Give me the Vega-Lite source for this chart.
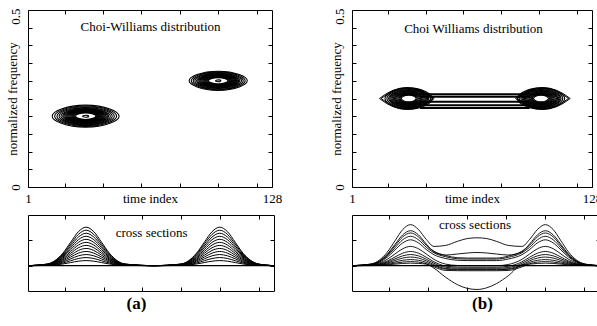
{
  "$schema": "https://vega.github.io/schema/vega-lite/v6.json",
  "background": "white",
  "padding": {"left": 5, "top": 7, "right": 0, "bottom": 0},
  "bounds": "flush",
  "align": "each",
  "columns": 2,
  "spacing": {"row": 28, "column": 78},
  "datasets": {
    "ringsA": [
      {"t": 31, "f": 0.2, "hw": 17.5}, {"t": 31, "f": 0.2, "hw": 16.2}, {"t": 31, "f": 0.2, "hw": 15.0}, {"t": 31, "f": 0.2, "hw": 13.9},
      {"t": 31, "f": 0.2, "hw": 12.9}, {"t": 31, "f": 0.2, "hw": 12.0}, {"t": 31, "f": 0.2, "hw": 11.4}, {"t": 31, "f": 0.2, "hw": 10.8},
      {"t": 31, "f": 0.2, "hw": 10.3}, {"t": 31, "f": 0.2, "hw": 9.8}, {"t": 31, "f": 0.2, "hw": 9.3}, {"t": 31, "f": 0.2, "hw": 8.8},
      {"t": 31, "f": 0.2, "hw": 8.3}, {"t": 31, "f": 0.2, "hw": 7.8}, {"t": 31, "f": 0.2, "hw": 7.3}, {"t": 31, "f": 0.2, "hw": 6.8},
      {"t": 31, "f": 0.2, "hw": 6.3}, {"t": 31, "f": 0.2, "hw": 5.8}, {"t": 31, "f": 0.2, "hw": 5.3}, {"t": 31, "f": 0.2, "hw": 1.6},
      {"t": 100, "f": 0.3, "hw": 15.2}, {"t": 100, "f": 0.3, "hw": 14.1}, {"t": 100, "f": 0.3, "hw": 13.1}, {"t": 100, "f": 0.3, "hw": 12.2},
      {"t": 100, "f": 0.3, "hw": 11.3}, {"t": 100, "f": 0.3, "hw": 10.7}, {"t": 100, "f": 0.3, "hw": 10.1}, {"t": 100, "f": 0.3, "hw": 9.6},
      {"t": 100, "f": 0.3, "hw": 9.1}, {"t": 100, "f": 0.3, "hw": 8.6}, {"t": 100, "f": 0.3, "hw": 8.1}, {"t": 100, "f": 0.3, "hw": 7.6},
      {"t": 100, "f": 0.3, "hw": 7.1}, {"t": 100, "f": 0.3, "hw": 6.6}, {"t": 100, "f": 0.3, "hw": 6.1}, {"t": 100, "f": 0.3, "hw": 5.6},
      {"t": 100, "f": 0.3, "hw": 5.1}, {"t": 100, "f": 0.3, "hw": 1.4}
    ],
    "lensB": [
      {"t": 30, "f": 0.25, "hw": 14.3}, {"t": 30, "f": 0.25, "hw": 13.4},
      {"t": 102, "f": 0.25, "hw": 14.3}, {"t": 102, "f": 0.25, "hw": 13.4}
    ],
    "ringsB": [
      {"t": 31, "f": 0.25, "hw": 12.4}, {"t": 31, "f": 0.25, "hw": 11.4}, {"t": 31, "f": 0.25, "hw": 10.5}, {"t": 31, "f": 0.25, "hw": 9.9},
      {"t": 31, "f": 0.25, "hw": 9.3}, {"t": 31, "f": 0.25, "hw": 8.7}, {"t": 31, "f": 0.25, "hw": 8.1}, {"t": 31, "f": 0.25, "hw": 7.5},
      {"t": 31, "f": 0.25, "hw": 6.9}, {"t": 31, "f": 0.25, "hw": 6.3}, {"t": 31, "f": 0.25, "hw": 5.7}, {"t": 31, "f": 0.25, "hw": 5.1},
      {"t": 31, "f": 0.25, "hw": 4.5}, {"t": 31, "f": 0.25, "hw": 3.9},
      {"t": 101, "f": 0.25, "hw": 12.4}, {"t": 101, "f": 0.25, "hw": 11.4}, {"t": 101, "f": 0.25, "hw": 10.5}, {"t": 101, "f": 0.25, "hw": 9.9},
      {"t": 101, "f": 0.25, "hw": 9.3}, {"t": 101, "f": 0.25, "hw": 8.7}, {"t": 101, "f": 0.25, "hw": 8.1}, {"t": 101, "f": 0.25, "hw": 7.5},
      {"t": 101, "f": 0.25, "hw": 6.9}, {"t": 101, "f": 0.25, "hw": 6.3}, {"t": 101, "f": 0.25, "hw": 5.7}, {"t": 101, "f": 0.25, "hw": 5.1},
      {"t": 101, "f": 0.25, "hw": 4.5}, {"t": 101, "f": 0.25, "hw": 3.9}
    ],
    "barsB": [
      {"t1": 37, "t2": 95, "f": 0.262}, {"t1": 37, "t2": 95, "f": 0.255}, {"t1": 37, "t2": 95, "f": 0.241},
      {"t1": 37, "t2": 95, "f": 0.231}, {"t1": 37, "t2": 95, "f": 0.223}
    ],
    "csA": [
      {"c":1,"x":1,"v":0},{"c":1,"x":11,"v":0.033},{"c":1,"x":19,"v":0.247},{"c":1,"x":23,"v":0.461},{"c":1,"x":27,"v":0.670},{"c":1,"x":31,"v":0.76},{"c":1,"x":35,"v":0.670},{"c":1,"x":39,"v":0.461},{"c":1,"x":43,"v":0.247},{"c":1,"x":51,"v":0.033},{"c":1,"x":66,"v":0},{"c":1,"x":80,"v":0.033},{"c":1,"x":88,"v":0.247},{"c":1,"x":92,"v":0.461},{"c":1,"x":96,"v":0.670},{"c":1,"x":100,"v":0.76},{"c":1,"x":104,"v":0.670},{"c":1,"x":108,"v":0.461},{"c":1,"x":112,"v":0.247},{"c":1,"x":120,"v":0.033},{"c":1,"x":128,"v":0},
      {"c":2,"x":1,"v":0},{"c":2,"x":11,"v":0.031},{"c":2,"x":19,"v":0.228},{"c":2,"x":23,"v":0.425},{"c":2,"x":27,"v":0.617},{"c":2,"x":31,"v":0.70},{"c":2,"x":35,"v":0.617},{"c":2,"x":39,"v":0.425},{"c":2,"x":43,"v":0.228},{"c":2,"x":51,"v":0.031},{"c":2,"x":66,"v":0},{"c":2,"x":80,"v":0.031},{"c":2,"x":88,"v":0.228},{"c":2,"x":92,"v":0.425},{"c":2,"x":96,"v":0.617},{"c":2,"x":100,"v":0.70},{"c":2,"x":104,"v":0.617},{"c":2,"x":108,"v":0.425},{"c":2,"x":112,"v":0.228},{"c":2,"x":120,"v":0.031},{"c":2,"x":128,"v":0},
      {"c":3,"x":1,"v":0},{"c":3,"x":11,"v":0.028},{"c":3,"x":19,"v":0.208},{"c":3,"x":23,"v":0.388},{"c":3,"x":27,"v":0.564},{"c":3,"x":31,"v":0.64},{"c":3,"x":35,"v":0.564},{"c":3,"x":39,"v":0.388},{"c":3,"x":43,"v":0.208},{"c":3,"x":51,"v":0.028},{"c":3,"x":66,"v":0},{"c":3,"x":80,"v":0.028},{"c":3,"x":88,"v":0.208},{"c":3,"x":92,"v":0.388},{"c":3,"x":96,"v":0.564},{"c":3,"x":100,"v":0.64},{"c":3,"x":104,"v":0.564},{"c":3,"x":108,"v":0.388},{"c":3,"x":112,"v":0.208},{"c":3,"x":120,"v":0.028},{"c":3,"x":128,"v":0},
      {"c":4,"x":1,"v":0},{"c":4,"x":11,"v":0.026},{"c":4,"x":19,"v":0.189},{"c":4,"x":23,"v":0.352},{"c":4,"x":27,"v":0.512},{"c":4,"x":31,"v":0.58},{"c":4,"x":35,"v":0.512},{"c":4,"x":39,"v":0.352},{"c":4,"x":43,"v":0.189},{"c":4,"x":51,"v":0.026},{"c":4,"x":66,"v":0},{"c":4,"x":80,"v":0.026},{"c":4,"x":88,"v":0.189},{"c":4,"x":92,"v":0.352},{"c":4,"x":96,"v":0.512},{"c":4,"x":100,"v":0.58},{"c":4,"x":104,"v":0.512},{"c":4,"x":108,"v":0.352},{"c":4,"x":112,"v":0.189},{"c":4,"x":120,"v":0.026},{"c":4,"x":128,"v":0},
      {"c":5,"x":1,"v":0},{"c":5,"x":11,"v":0.023},{"c":5,"x":19,"v":0.169},{"c":5,"x":23,"v":0.316},{"c":5,"x":27,"v":0.459},{"c":5,"x":31,"v":0.52},{"c":5,"x":35,"v":0.459},{"c":5,"x":39,"v":0.316},{"c":5,"x":43,"v":0.169},{"c":5,"x":51,"v":0.023},{"c":5,"x":66,"v":0},{"c":5,"x":80,"v":0.023},{"c":5,"x":88,"v":0.169},{"c":5,"x":92,"v":0.316},{"c":5,"x":96,"v":0.459},{"c":5,"x":100,"v":0.52},{"c":5,"x":104,"v":0.459},{"c":5,"x":108,"v":0.316},{"c":5,"x":112,"v":0.169},{"c":5,"x":120,"v":0.023},{"c":5,"x":128,"v":0},
      {"c":6,"x":1,"v":0},{"c":6,"x":11,"v":0.020},{"c":6,"x":19,"v":0.150},{"c":6,"x":23,"v":0.279},{"c":6,"x":27,"v":0.406},{"c":6,"x":31,"v":0.46},{"c":6,"x":35,"v":0.406},{"c":6,"x":39,"v":0.279},{"c":6,"x":43,"v":0.150},{"c":6,"x":51,"v":0.020},{"c":6,"x":66,"v":0},{"c":6,"x":80,"v":0.020},{"c":6,"x":88,"v":0.150},{"c":6,"x":92,"v":0.279},{"c":6,"x":96,"v":0.406},{"c":6,"x":100,"v":0.46},{"c":6,"x":104,"v":0.406},{"c":6,"x":108,"v":0.279},{"c":6,"x":112,"v":0.150},{"c":6,"x":120,"v":0.020},{"c":6,"x":128,"v":0},
      {"c":7,"x":1,"v":0},{"c":7,"x":11,"v":0.018},{"c":7,"x":19,"v":0.130},{"c":7,"x":23,"v":0.243},{"c":7,"x":27,"v":0.353},{"c":7,"x":31,"v":0.40},{"c":7,"x":35,"v":0.353},{"c":7,"x":39,"v":0.243},{"c":7,"x":43,"v":0.130},{"c":7,"x":51,"v":0.018},{"c":7,"x":66,"v":0},{"c":7,"x":80,"v":0.018},{"c":7,"x":88,"v":0.130},{"c":7,"x":92,"v":0.243},{"c":7,"x":96,"v":0.353},{"c":7,"x":100,"v":0.40},{"c":7,"x":104,"v":0.353},{"c":7,"x":108,"v":0.243},{"c":7,"x":112,"v":0.130},{"c":7,"x":120,"v":0.018},{"c":7,"x":128,"v":0},
      {"c":8,"x":1,"v":0},{"c":8,"x":11,"v":0.015},{"c":8,"x":19,"v":0.111},{"c":8,"x":23,"v":0.206},{"c":8,"x":27,"v":0.300},{"c":8,"x":31,"v":0.34},{"c":8,"x":35,"v":0.300},{"c":8,"x":39,"v":0.206},{"c":8,"x":43,"v":0.111},{"c":8,"x":51,"v":0.015},{"c":8,"x":66,"v":0},{"c":8,"x":80,"v":0.015},{"c":8,"x":88,"v":0.111},{"c":8,"x":92,"v":0.206},{"c":8,"x":96,"v":0.300},{"c":8,"x":100,"v":0.34},{"c":8,"x":104,"v":0.300},{"c":8,"x":108,"v":0.206},{"c":8,"x":112,"v":0.111},{"c":8,"x":120,"v":0.015},{"c":8,"x":128,"v":0},
      {"c":9,"x":1,"v":0},{"c":9,"x":11,"v":0.012},{"c":9,"x":19,"v":0.091},{"c":9,"x":23,"v":0.170},{"c":9,"x":27,"v":0.247},{"c":9,"x":31,"v":0.28},{"c":9,"x":35,"v":0.247},{"c":9,"x":39,"v":0.170},{"c":9,"x":43,"v":0.091},{"c":9,"x":51,"v":0.012},{"c":9,"x":66,"v":0},{"c":9,"x":80,"v":0.012},{"c":9,"x":88,"v":0.091},{"c":9,"x":92,"v":0.170},{"c":9,"x":96,"v":0.247},{"c":9,"x":100,"v":0.28},{"c":9,"x":104,"v":0.247},{"c":9,"x":108,"v":0.170},{"c":9,"x":112,"v":0.091},{"c":9,"x":120,"v":0.012},{"c":9,"x":128,"v":0},
      {"c":10,"x":1,"v":0},{"c":10,"x":11,"v":0.010},{"c":10,"x":19,"v":0.072},{"c":10,"x":23,"v":0.134},{"c":10,"x":27,"v":0.194},{"c":10,"x":31,"v":0.22},{"c":10,"x":35,"v":0.194},{"c":10,"x":39,"v":0.134},{"c":10,"x":43,"v":0.072},{"c":10,"x":51,"v":0.010},{"c":10,"x":66,"v":0},{"c":10,"x":80,"v":0.010},{"c":10,"x":88,"v":0.072},{"c":10,"x":92,"v":0.134},{"c":10,"x":96,"v":0.194},{"c":10,"x":100,"v":0.22},{"c":10,"x":104,"v":0.194},{"c":10,"x":108,"v":0.134},{"c":10,"x":112,"v":0.072},{"c":10,"x":120,"v":0.010},{"c":10,"x":128,"v":0},
      {"c":11,"x":1,"v":0},{"c":11,"x":11,"v":0.007},{"c":11,"x":19,"v":0.052},{"c":11,"x":23,"v":0.097},{"c":11,"x":27,"v":0.141},{"c":11,"x":31,"v":0.16},{"c":11,"x":35,"v":0.141},{"c":11,"x":39,"v":0.097},{"c":11,"x":43,"v":0.052},{"c":11,"x":51,"v":0.007},{"c":11,"x":66,"v":0},{"c":11,"x":80,"v":0.007},{"c":11,"x":88,"v":0.052},{"c":11,"x":92,"v":0.097},{"c":11,"x":96,"v":0.141},{"c":11,"x":100,"v":0.16},{"c":11,"x":104,"v":0.141},{"c":11,"x":108,"v":0.097},{"c":11,"x":112,"v":0.052},{"c":11,"x":120,"v":0.007},{"c":11,"x":128,"v":0},
      {"c":12,"x":1,"v":0},{"c":12,"x":11,"v":0.004},{"c":12,"x":19,"v":0.033},{"c":12,"x":23,"v":0.061},{"c":12,"x":27,"v":0.088},{"c":12,"x":31,"v":0.10},{"c":12,"x":35,"v":0.088},{"c":12,"x":39,"v":0.061},{"c":12,"x":43,"v":0.033},{"c":12,"x":51,"v":0.004},{"c":12,"x":66,"v":0},{"c":12,"x":80,"v":0.004},{"c":12,"x":88,"v":0.033},{"c":12,"x":92,"v":0.061},{"c":12,"x":96,"v":0.088},{"c":12,"x":100,"v":0.10},{"c":12,"x":104,"v":0.088},{"c":12,"x":108,"v":0.061},{"c":12,"x":112,"v":0.033},{"c":12,"x":120,"v":0.004},{"c":12,"x":128,"v":0}
    ],
    "csB": [
      {"c":1,"x":1,"v":0},{"c":1,"x":11,"v":0.036},{"c":1,"x":19,"v":0.263},{"c":1,"x":23,"v":0.49},{"c":1,"x":27,"v":0.714},{"c":1,"x":31,"v":0.81},{"c":1,"x":35,"v":0.714},{"c":1,"x":39,"v":0.52},{"c":1,"x":43,"v":0.38},{"c":1,"x":49,"v":0.40},{"c":1,"x":55,"v":0.48},{"c":1,"x":60,"v":0.535},{"c":1,"x":65,"v":0.55},{"c":1,"x":70,"v":0.535},{"c":1,"x":75,"v":0.48},{"c":1,"x":81,"v":0.40},{"c":1,"x":88,"v":0.38},{"c":1,"x":92,"v":0.52},{"c":1,"x":96,"v":0.714},{"c":1,"x":100,"v":0.81},{"c":1,"x":104,"v":0.714},{"c":1,"x":108,"v":0.49},{"c":1,"x":112,"v":0.263},{"c":1,"x":120,"v":0.036},{"c":1,"x":128,"v":0},
      {"c":2,"x":1,"v":0},{"c":2,"x":11,"v":0.03},{"c":2,"x":19,"v":0.224},{"c":2,"x":23,"v":0.419},{"c":2,"x":27,"v":0.609},{"c":2,"x":31,"v":0.69},{"c":2,"x":35,"v":0.609},{"c":2,"x":39,"v":0.43},{"c":2,"x":43,"v":0.27},{"c":2,"x":49,"v":0.21},{"c":2,"x":55,"v":0.23},{"c":2,"x":60,"v":0.25},{"c":2,"x":65,"v":0.26},{"c":2,"x":70,"v":0.25},{"c":2,"x":75,"v":0.23},{"c":2,"x":81,"v":0.21},{"c":2,"x":88,"v":0.27},{"c":2,"x":92,"v":0.43},{"c":2,"x":96,"v":0.609},{"c":2,"x":100,"v":0.69},{"c":2,"x":104,"v":0.609},{"c":2,"x":108,"v":0.419},{"c":2,"x":112,"v":0.224},{"c":2,"x":120,"v":0.03},{"c":2,"x":128,"v":0},
      {"c":3,"x":1,"v":0},{"c":3,"x":11,"v":0.028},{"c":3,"x":19,"v":0.21},{"c":3,"x":23,"v":0.39},{"c":3,"x":27,"v":0.57},{"c":3,"x":31,"v":0.645},{"c":3,"x":35,"v":0.57},{"c":3,"x":39,"v":0.405},{"c":3,"x":43,"v":0.285},{"c":3,"x":49,"v":0.20},{"c":3,"x":55,"v":0.157},{"c":3,"x":60,"v":0.15},{"c":3,"x":65,"v":0.15},{"c":3,"x":70,"v":0.15},{"c":3,"x":75,"v":0.15},{"c":3,"x":81,"v":0.189},{"c":3,"x":88,"v":0.285},{"c":3,"x":92,"v":0.405},{"c":3,"x":96,"v":0.57},{"c":3,"x":100,"v":0.645},{"c":3,"x":104,"v":0.57},{"c":3,"x":108,"v":0.39},{"c":3,"x":112,"v":0.21},{"c":3,"x":120,"v":0.028},{"c":3,"x":128,"v":0},
      {"c":4,"x":1,"v":0},{"c":4,"x":11,"v":0.026},{"c":4,"x":19,"v":0.189},{"c":4,"x":23,"v":0.352},{"c":4,"x":27,"v":0.512},{"c":4,"x":31,"v":0.58},{"c":4,"x":35,"v":0.512},{"c":4,"x":39,"v":0.365},{"c":4,"x":43,"v":0.254},{"c":4,"x":49,"v":0.176},{"c":4,"x":55,"v":0.136},{"c":4,"x":60,"v":0.13},{"c":4,"x":65,"v":0.13},{"c":4,"x":70,"v":0.13},{"c":4,"x":75,"v":0.13},{"c":4,"x":81,"v":0.165},{"c":4,"x":88,"v":0.254},{"c":4,"x":92,"v":0.365},{"c":4,"x":96,"v":0.512},{"c":4,"x":100,"v":0.58},{"c":4,"x":104,"v":0.512},{"c":4,"x":108,"v":0.352},{"c":4,"x":112,"v":0.189},{"c":4,"x":120,"v":0.026},{"c":4,"x":128,"v":0},
      {"c":5,"x":1,"v":0},{"c":5,"x":11,"v":0.022},{"c":5,"x":19,"v":0.166},{"c":5,"x":23,"v":0.31},{"c":5,"x":27,"v":0.45},{"c":5,"x":31,"v":0.51},{"c":5,"x":35,"v":0.45},{"c":5,"x":39,"v":0.32},{"c":5,"x":43,"v":0.216},{"c":5,"x":49,"v":0.141},{"c":5,"x":55,"v":0.106},{"c":5,"x":60,"v":0.10},{"c":5,"x":65,"v":0.10},{"c":5,"x":70,"v":0.10},{"c":5,"x":75,"v":0.10},{"c":5,"x":81,"v":0.131},{"c":5,"x":88,"v":0.216},{"c":5,"x":92,"v":0.32},{"c":5,"x":96,"v":0.45},{"c":5,"x":100,"v":0.51},{"c":5,"x":104,"v":0.45},{"c":5,"x":108,"v":0.31},{"c":5,"x":112,"v":0.166},{"c":5,"x":120,"v":0.022},{"c":5,"x":128,"v":0},
      {"c":6,"x":1,"v":0},{"c":6,"x":11,"v":0.017},{"c":6,"x":19,"v":0.124},{"c":6,"x":23,"v":0.231},{"c":6,"x":27,"v":0.335},{"c":6,"x":31,"v":0.38},{"c":6,"x":35,"v":0.335},{"c":6,"x":39,"v":0.231},{"c":6,"x":43,"v":0.124},{"c":6,"x":49,"v":0.03},{"c":6,"x":55,"v":0.004},{"c":6,"x":60,"v":0},{"c":6,"x":65,"v":0},{"c":6,"x":70,"v":0},{"c":6,"x":75,"v":0},{"c":6,"x":81,"v":0.023},{"c":6,"x":88,"v":0.124},{"c":6,"x":92,"v":0.231},{"c":6,"x":96,"v":0.335},{"c":6,"x":100,"v":0.38},{"c":6,"x":104,"v":0.335},{"c":6,"x":108,"v":0.231},{"c":6,"x":112,"v":0.124},{"c":6,"x":120,"v":0.017},{"c":6,"x":128,"v":0},
      {"c":7,"x":1,"v":0},{"c":7,"x":11,"v":0.012},{"c":7,"x":19,"v":0.091},{"c":7,"x":23,"v":0.17},{"c":7,"x":27,"v":0.247},{"c":7,"x":31,"v":0.28},{"c":7,"x":35,"v":0.247},{"c":7,"x":39,"v":0.167},{"c":7,"x":43,"v":0.076},{"c":7,"x":49,"v":-0.008},{"c":7,"x":55,"v":-0.027},{"c":7,"x":60,"v":-0.03},{"c":7,"x":65,"v":-0.03},{"c":7,"x":70,"v":-0.03},{"c":7,"x":75,"v":-0.03},{"c":7,"x":81,"v":-0.013},{"c":7,"x":88,"v":0.076},{"c":7,"x":92,"v":0.167},{"c":7,"x":96,"v":0.247},{"c":7,"x":100,"v":0.28},{"c":7,"x":104,"v":0.247},{"c":7,"x":108,"v":0.17},{"c":7,"x":112,"v":0.091},{"c":7,"x":120,"v":0.012},{"c":7,"x":128,"v":0},
      {"c":8,"x":1,"v":0},{"c":8,"x":11,"v":0.01},{"c":8,"x":19,"v":0.072},{"c":8,"x":23,"v":0.134},{"c":8,"x":27,"v":0.194},{"c":8,"x":31,"v":0.22},{"c":8,"x":35,"v":0.194},{"c":8,"x":39,"v":0.129},{"c":8,"x":43,"v":0.047},{"c":8,"x":49,"v":-0.032},{"c":8,"x":55,"v":-0.048},{"c":8,"x":60,"v":-0.05},{"c":8,"x":65,"v":-0.05},{"c":8,"x":70,"v":-0.05},{"c":8,"x":75,"v":-0.05},{"c":8,"x":81,"v":-0.037},{"c":8,"x":88,"v":0.047},{"c":8,"x":92,"v":0.129},{"c":8,"x":96,"v":0.194},{"c":8,"x":100,"v":0.22},{"c":8,"x":104,"v":0.194},{"c":8,"x":108,"v":0.134},{"c":8,"x":112,"v":0.072},{"c":8,"x":120,"v":0.01},{"c":8,"x":128,"v":0},
      {"c":9,"x":1,"v":0},{"c":9,"x":11,"v":0.007},{"c":9,"x":19,"v":0.055},{"c":9,"x":23,"v":0.103},{"c":9,"x":27,"v":0.15},{"c":9,"x":31,"v":0.17},{"c":9,"x":35,"v":0.15},{"c":9,"x":39,"v":0.096},{"c":9,"x":43,"v":0.02},{"c":9,"x":49,"v":-0.056},{"c":9,"x":55,"v":-0.068},{"c":9,"x":60,"v":-0.07},{"c":9,"x":65,"v":-0.07},{"c":9,"x":70,"v":-0.07},{"c":9,"x":75,"v":-0.07},{"c":9,"x":81,"v":-0.06},{"c":9,"x":88,"v":0.02},{"c":9,"x":92,"v":0.096},{"c":9,"x":96,"v":0.15},{"c":9,"x":100,"v":0.17},{"c":9,"x":104,"v":0.15},{"c":9,"x":108,"v":0.103},{"c":9,"x":112,"v":0.055},{"c":9,"x":120,"v":0.007},{"c":9,"x":128,"v":0},
      {"c":10,"x":1,"v":0},{"c":10,"x":11,"v":0.005},{"c":10,"x":19,"v":0.039},{"c":10,"x":23,"v":0.073},{"c":10,"x":27,"v":0.106},{"c":10,"x":31,"v":0.12},{"c":10,"x":35,"v":0.106},{"c":10,"x":39,"v":0.065},{"c":10,"x":43,"v":-0.001},{"c":10,"x":49,"v":-0.07},{"c":10,"x":55,"v":-0.079},{"c":10,"x":60,"v":-0.08},{"c":10,"x":65,"v":-0.08},{"c":10,"x":70,"v":-0.08},{"c":10,"x":75,"v":-0.08},{"c":10,"x":81,"v":-0.073},{"c":10,"x":88,"v":-0.001},{"c":10,"x":92,"v":0.065},{"c":10,"x":96,"v":0.106},{"c":10,"x":100,"v":0.12},{"c":10,"x":104,"v":0.106},{"c":10,"x":108,"v":0.073},{"c":10,"x":112,"v":0.039},{"c":10,"x":120,"v":0.005},{"c":10,"x":128,"v":0},
      {"c":11,"x":1,"v":0},{"c":11,"x":11,"v":0.004},{"c":11,"x":19,"v":0.026},{"c":11,"x":23,"v":0.049},{"c":11,"x":27,"v":0.071},{"c":11,"x":31,"v":0.08},{"c":11,"x":35,"v":0.071},{"c":11,"x":39,"v":0.039},{"c":11,"x":43,"v":-0.024},{"c":11,"x":49,"v":-0.094},{"c":11,"x":55,"v":-0.099},{"c":11,"x":60,"v":-0.1},{"c":11,"x":65,"v":-0.1},{"c":11,"x":70,"v":-0.1},{"c":11,"x":75,"v":-0.1},{"c":11,"x":81,"v":-0.095},{"c":11,"x":88,"v":-0.024},{"c":11,"x":92,"v":0.039},{"c":11,"x":96,"v":0.071},{"c":11,"x":100,"v":0.08},{"c":11,"x":104,"v":0.071},{"c":11,"x":108,"v":0.049},{"c":11,"x":112,"v":0.026},{"c":11,"x":120,"v":0.004},{"c":11,"x":128,"v":0},
      {"c":12,"x":1,"v":0},{"c":12,"x":11,"v":0.002},{"c":12,"x":19,"v":0.016},{"c":12,"x":23,"v":0.03},{"c":12,"x":27,"v":0.044},{"c":12,"x":31,"v":0.05},{"c":12,"x":35,"v":0.044},{"c":12,"x":39,"v":0.03},{"c":12,"x":43,"v":-0.05},{"c":12,"x":49,"v":-0.23},{"c":12,"x":55,"v":-0.375},{"c":12,"x":60,"v":-0.448},{"c":12,"x":65,"v":-0.47},{"c":12,"x":70,"v":-0.437},{"c":12,"x":75,"v":-0.354},{"c":12,"x":81,"v":-0.20},{"c":12,"x":88,"v":0.016},{"c":12,"x":92,"v":0.03},{"c":12,"x":96,"v":0.044},{"c":12,"x":100,"v":0.05},{"c":12,"x":104,"v":0.044},{"c":12,"x":108,"v":0.03},{"c":12,"x":112,"v":0.016},{"c":12,"x":120,"v":0.002},{"c":12,"x":128,"v":0}
    ]
  },
  "concat": [
    {
      "width": 244,
      "height": 177,
      "layer": [
        {
          "data": {"name": "ringsA"},
          "mark": {"type": "point", "shape": "M-1,0C-1,-0.13,-0.6,-0.33,0,-0.33C0.6,-0.33,1,-0.13,1,0C1,0.13,0.6,0.33,0,0.33C-0.6,0.33,-1,0.13,-1,0Z", "filled": false, "stroke": "black", "strokeWidth": 1.1, "opacity": 1},
          "encoding": {
            "x": {"field": "t", "type": "quantitative", "scale": {"domain": [1, 128], "nice": false, "zero": false},
                  "axis": {"values": [1, 20, 40, 60, 80, 100, 120, 128], "labelExpr": "datum.value == 1 ? '1' : datum.value == 128 ? '128' : ''", "labelPadding": 9, "labelFlush": false, "labelOverlap": false, "title": "time index", "titlePadding": -13}},
            "y": {"field": "f", "type": "quantitative", "scale": {"domain": [0, 0.5], "nice": false},
                  "axis": {"values": [0, 0.05, 0.1, 0.15, 0.2, 0.25, 0.3, 0.35, 0.4, 0.45, 0.5], "labelExpr": "datum.value == 0 ? '0' : datum.value == 0.5 ? '0.5' : ''", "labelAngle": 270, "labelPadding": 10, "labelFlush": false, "labelOverlap": false, "labelOffset": {"condition": {"test": "datum.value == 0.5", "value": 6}, "value": 0}, "title": "normalized frequency", "titlePadding": -10}},
            "size": {"field": "hw", "type": "quantitative", "scale": {"type": "pow", "exponent": 2, "domain": [0, 20], "range": [0, 5852]}, "legend": null}
          }
        },
        {
          "data": {"values": [{}]},
          "mark": {"type": "text", "text": "Choi-Williams distribution", "baseline": "middle", "align": "center"},
          "encoding": {
            "x": {"datum": 64.8, "type": "quantitative", "axis": {"orient": "top", "values": [20, 40, 60, 80, 100, 120], "labels": false, "title": null}},
            "y": {"datum": 0.452, "type": "quantitative", "axis": {"orient": "right", "values": [0.05, 0.1, 0.15, 0.2, 0.25, 0.3, 0.35, 0.4, 0.45], "labels": false, "title": null}}
          }
        }
      ],
      "resolve": {"axis": {"x": "independent", "y": "independent"}}
    },
    {
      "width": 240,
      "height": 177,
      "layer": [
        {
          "data": {"name": "ringsB"},
          "mark": {"type": "point", "shape": "M-1,0C-1,-0.16,-0.6,-0.45,0,-0.45C0.6,-0.45,1,-0.16,1,0C1,0.16,0.6,0.45,0,0.45C-0.6,0.45,-1,0.16,-1,0Z", "filled": false, "stroke": "black", "strokeWidth": 1.1, "opacity": 1},
          "encoding": {
            "x": {"field": "t", "type": "quantitative", "scale": {"domain": [1, 128], "nice": false, "zero": false},
                  "axis": {"values": [1, 20, 40, 60, 80, 100, 120, 128], "labelExpr": "datum.value == 1 ? '1' : datum.value == 128 ? '128' : ''", "labelPadding": 9, "labelFlush": false, "labelOverlap": false, "title": "time index", "titlePadding": -13}},
            "y": {"field": "f", "type": "quantitative", "scale": {"domain": [0, 0.5], "nice": false},
                  "axis": {"values": [0, 0.05, 0.1, 0.15, 0.2, 0.25, 0.3, 0.35, 0.4, 0.45, 0.5], "labelExpr": "datum.value == 0 ? '0' : datum.value == 0.5 ? '0.5' : ''", "labelAngle": 270, "labelPadding": 10, "labelFlush": false, "labelOverlap": false, "labelOffset": {"condition": {"test": "datum.value == 0.5", "value": 6}, "value": 0}, "title": "normalized frequency", "titlePadding": -10}},
            "size": {"field": "hw", "type": "quantitative", "scale": {"type": "pow", "exponent": 2, "domain": [0, 20], "range": [0, 5715]}, "legend": null}
          }
        },
        {
          "data": {"name": "lensB"},
          "mark": {"type": "point", "shape": "M-1,0Q0,-0.8,1,0Q0,0.8,-1,0Z", "filled": false, "stroke": "black", "strokeWidth": 1, "opacity": 1},
          "encoding": {
            "x": {"field": "t", "type": "quantitative", "axis": null},
            "y": {"field": "f", "type": "quantitative", "axis": null},
            "size": {"field": "hw", "type": "quantitative", "legend": null}
          }
        },
        {
          "data": {"name": "barsB"},
          "mark": {"type": "rule", "stroke": "black", "strokeWidth": 2},
          "encoding": {
            "x": {"field": "t1", "type": "quantitative", "axis": null},
            "x2": {"field": "t2"},
            "y": {"field": "f", "type": "quantitative", "axis": null}
          }
        },
        {
          "data": {"values": [{}]},
          "mark": {"type": "text", "text": "Choi Williams distribution", "baseline": "middle", "align": "center"},
          "encoding": {
            "x": {"datum": 65.3, "type": "quantitative", "axis": {"orient": "top", "values": [20, 40, 60, 80, 100, 120], "labels": false, "title": null}},
            "y": {"datum": 0.446, "type": "quantitative", "axis": {"orient": "right", "values": [0.05, 0.1, 0.15, 0.2, 0.25, 0.3, 0.35, 0.4, 0.45], "labels": false, "title": null}}
          }
        }
      ],
      "resolve": {"axis": {"x": "independent", "y": "independent"}}
    },
    {
      "width": 246,
      "height": 76,
      "layer": [
        {
          "data": {"name": "csA"},
          "mark": {"type": "line", "interpolate": "monotone", "stroke": "black", "strokeWidth": 1},
          "encoding": {
            "x": {"field": "x", "type": "quantitative", "scale": {"domain": [1, 128], "nice": false, "zero": false},
                  "axis": {"values": [20, 40, 60, 80, 100, 120], "labels": false, "title": "(a)", "titleFontSize": 17, "titleFontWeight": "bold", "titlePadding": 4, "titleX": 108}},
            "y": {"field": "v", "type": "quantitative", "scale": {"domain": [-0.5, 1], "nice": false},
                  "axis": {"values": [0, 0.5], "labels": false, "title": null}},
            "detail": {"field": "c", "type": "nominal"}
          }
        },
        {
          "data": {"values": [{}]},
          "mark": {"type": "rule", "stroke": "black", "strokeWidth": 1.2},
          "encoding": {"y": {"datum": 0, "type": "quantitative", "axis": null}}
        },
        {
          "data": {"values": [{}]},
          "mark": {"type": "text", "text": "cross sections", "baseline": "middle", "align": "center"},
          "encoding": {
            "x": {"datum": 64.8, "type": "quantitative", "axis": {"orient": "top", "values": [20, 40, 60, 80, 100, 120], "labels": false, "title": null}},
            "y": {"datum": 0.645, "type": "quantitative", "axis": {"orient": "right", "values": [0, 0.5], "labels": false, "title": null}}
          }
        }
      ],
      "resolve": {"axis": {"x": "independent", "y": "independent"}}
    },
    {
      "width": 248,
      "height": 76,
      "layer": [
        {
          "data": {"name": "csB"},
          "mark": {"type": "line", "interpolate": "monotone", "stroke": "black", "strokeWidth": 0.9},
          "encoding": {
            "x": {"field": "x", "type": "quantitative", "scale": {"domain": [1, 128], "nice": false, "zero": false},
                  "axis": {"values": [20, 40, 60, 80, 100, 120], "labels": false, "title": "(b)", "titleFontSize": 17, "titleFontWeight": "bold", "titlePadding": 4, "titleX": 130}},
            "y": {"field": "v", "type": "quantitative", "scale": {"domain": [-0.5, 1], "nice": false},
                  "axis": {"values": [0, 0.5], "labels": false, "title": null}},
            "detail": {"field": "c", "type": "nominal"}
          }
        },
        {
          "data": {"values": [{}]},
          "mark": {"type": "rule", "stroke": "black", "strokeWidth": 1.2},
          "encoding": {"y": {"datum": 0, "type": "quantitative", "axis": null}}
        },
        {
          "data": {"values": [{}]},
          "mark": {"type": "text", "text": "cross sections", "baseline": "middle", "align": "center"},
          "encoding": {
            "x": {"datum": 64, "type": "quantitative", "axis": {"orient": "top", "values": [20, 40, 60, 80, 100, 120], "labels": false, "title": null}},
            "y": {"datum": 0.8, "type": "quantitative", "axis": {"orient": "right", "values": [0, 0.5], "labels": false, "title": null}}
          }
        }
      ],
      "resolve": {"axis": {"x": "independent", "y": "independent"}}
    }
  ],
  "config": {
    "view": {"stroke": "black", "strokeWidth": 1},
    "axis": {
      "labelFont": "Liberation Serif", "titleFont": "Liberation Serif",
      "labelFontSize": 13, "titleFontSize": 13, "titleFontWeight": "normal",
      "labelColor": "black", "titleColor": "black", "tickColor": "black",
      "tickSize": -4, "tickWidth": 1, "domain": false, "grid": false
    },
    "text": {"font": "Liberation Serif", "fontSize": 13, "color": "black"}
  }
}
